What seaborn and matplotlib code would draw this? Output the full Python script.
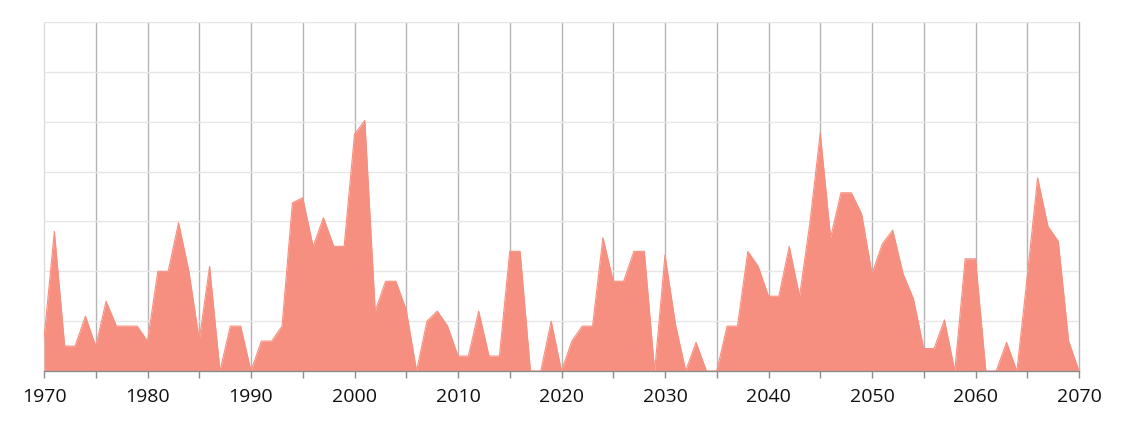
import matplotlib.pyplot as plt
import matplotlib.ticker as mticker
import seaborn as sns
import pandas as pd

# Valores, un valor por año 1970-2070
anios = list(range(1970, 2071))
valores = [
    1.3, 5.6, 1.0, 1.0, 2.2, 1.0, 2.8, 1.8, 1.8, 1.8,   # 1970-1979
    1.2, 4.0, 4.0, 5.95, 4.0, 1.25, 4.2, 0.0, 1.8, 1.8,  # 1980-1989
    0.0, 1.2, 1.2, 1.8, 6.75, 6.95, 5.0, 6.15, 5.0, 5.0,  # 1990-1999
    9.5, 10.05, 2.4, 3.6, 3.6, 2.45, 0.0, 2.0, 2.4, 1.8,  # 2000-2009
    0.6, 0.6, 2.4, 0.6, 0.6, 4.8, 4.8, 0.0, 0.0, 2.0,     # 2010-2019
    0.0, 1.2, 1.8, 1.8, 5.35, 3.6, 3.6, 4.8, 4.8, 0.0,    # 2020-2029
    4.65, 1.9, 0.0, 1.15, 0.0, 0.0, 1.8, 1.8, 4.8, 4.2,   # 2030-2039
    3.0, 3.0, 5.0, 3.0, 5.95, 9.55, 5.35, 7.15, 7.15, 6.3,  # 2040-2049
    3.9, 5.1, 5.65, 3.9, 2.9, 0.9, 0.9, 2.05, 0.0, 4.5,   # 2050-2059
    4.5, 0.0, 0.0, 1.15, 0.0, 3.8, 7.75, 5.8, 5.2, 1.2,   # 2060-2069
    0.0,                                                  # 2070
]
anios_etiqueta = list(range(1970, 2071, 10))
anios_intermedios = list(range(1975, 2070, 10))

df = pd.DataFrame({"anio": anios, "valor": valores})

COLOR_AREA = "#f78f80"

sns.set_theme(style="white")
plt.rcParams["font.family"] = ["Open Sans", "DejaVu Sans"]

fig = plt.figure(figsize=(11.23, 4.23), dpi=100)
ax = fig.add_axes([44 / 1123, 52 / 423, 1035 / 1123, 349 / 423])

sns.lineplot(x="anio", y="valor", data=df, color=COLOR_AREA, linewidth=0.8, ax=ax)
ax.fill_between(df["anio"], df["valor"], 0, color=COLOR_AREA, linewidth=0)

ax.set_xlim(1970, 2070)
ax.set_ylim(0, 14)
ax.xaxis.set_major_locator(mticker.FixedLocator(anios_etiqueta))
ax.xaxis.set_minor_locator(mticker.FixedLocator(anios_intermedios))
ax.yaxis.set_major_locator(mticker.MultipleLocator(2))
ax.set_yticklabels([])
ax.set_xlabel("")
ax.set_ylabel("")

ax.set_axisbelow(True)
ax.grid(axis="x", which="both", color="#b4b4b4", linewidth=1)
ax.grid(axis="y", which="major", color="#e6e6e6", linewidth=1)
for linea in ax.get_xgridlines():
    linea.set_clip_on(False)
ax.get_xgridlines()[0].set_color("#dcdcdc")

for lado in ["top", "right", "left"]:
    ax.spines[lado].set_visible(False)
ax.spines["bottom"].set_color("#8c8c8c")
ax.spines["bottom"].set_linewidth(1)

ax.tick_params(axis="x", which="both", bottom=True, length=5, width=1, color="#8c8c8c",
               labelsize=14, labelcolor="#111111", pad=7)
ax.tick_params(axis="y", left=False)

plt.savefig("out.png", dpi=100)
plt.close()
